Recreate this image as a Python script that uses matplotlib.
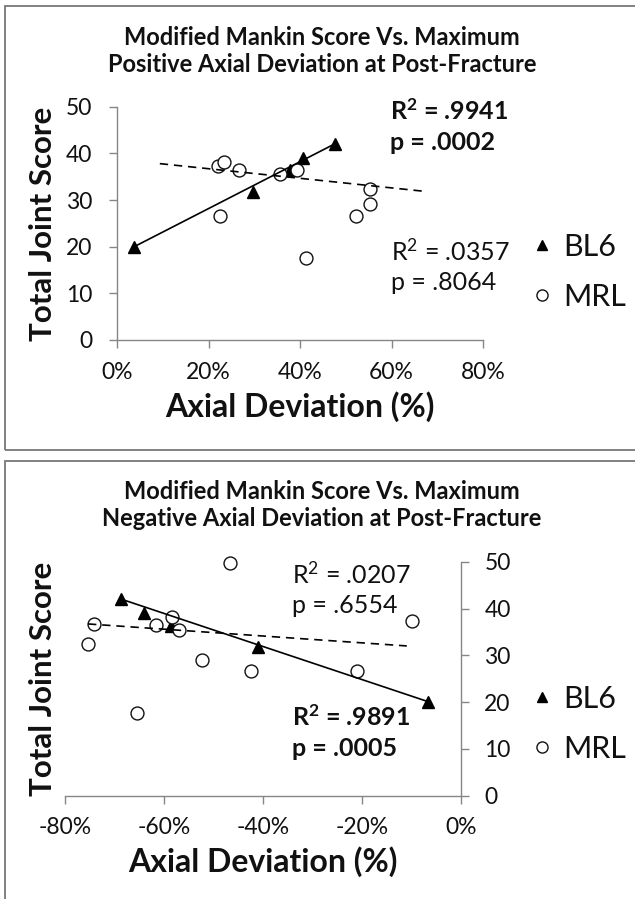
import matplotlib
matplotlib.use('Agg')
import matplotlib.pyplot as plt
from matplotlib.lines import Line2D
from matplotlib.patches import Rectangle
from matplotlib.ticker import FuncFormatter

plt.rcParams['font.family'] = ['Lato', 'DejaVu Sans']
plt.rcParams['mathtext.fontset'] = 'custom'
plt.rcParams['mathtext.rm'] = 'Lato'
plt.rcParams['mathtext.bf'] = 'Lato:bold'

# ---- data: positive axial deviation (%) vs total joint score ----
pos_bl6_x = [3.7, 29.7, 37.7, 40.6, 47.7]
pos_bl6_y = [20.0, 31.8, 36.4, 38.9, 42.1]
pos_mrl_x = [22.0, 23.3, 26.6, 22.4, 35.6, 39.3, 41.2, 52.2, 55.3, 55.3]
pos_mrl_y = [37.3, 38.2, 36.4, 26.6, 35.5, 36.5, 17.6, 26.6, 32.3, 29.1]
pos_bl6_trend_x = [3.7, 47.7]
pos_bl6_trend_y = [20.0, 42.1]
pos_mrl_trend_x = [9.3, 67.8]
pos_mrl_trend_y = [37.8, 31.8]

# ---- data: negative axial deviation (%) vs total joint score ----
neg_bl6_x = [-68.6, -63.9, -58.5, -41.0, -6.6]
neg_bl6_y = [42.0, 39.0, 36.3, 31.8, 20.1]
neg_mrl_x = [-46.7, -75.4, -74.2, -61.5, -58.3, -56.9, -52.2, -65.5, -42.3, -21.0, -9.8]
neg_mrl_y = [49.7, 32.4, 36.7, 36.5, 38.2, 35.4, 29.1, 17.7, 26.6, 26.6, 37.3]
neg_bl6_trend_x = [-68.6, -6.6]
neg_bl6_trend_y = [42.0, 20.1]
neg_mrl_trend_x = [-75.3, -10.9]
neg_mrl_trend_y = [36.7, 32.0]

titles = ['Modified Mankin Score Vs. Maximum\nPositive Axial Deviation at Post-Fracture',
          'Modified Mankin Score Vs. Maximum\nNegative Axial Deviation at Post-Fracture']
# (r squared, p value, bold?)
pos_stats = [('.9941', '.0002', True), ('.0357', '.8064', False)]
neg_stats = [('.0207', '.6554', False), ('.9891', '.0005', True)]

W, H = 635, 899
GRAY = '#868686'
TXT = '#111111'


def fx(px):
    return px / W


def fy(py):
    return 1 - py / H


fig = plt.figure(figsize=(W / 100, H / 100), dpi=100)

# panel borders (right / bottom edges run off the image)
fig.patches.append(Rectangle((fx(4.5), fy(450)), 1.0, (450 - 6) / H, transform=fig.transFigure,
                             fill=False, edgecolor='#777777', lw=1.3))
fig.patches.append(Rectangle((fx(4.5), -0.05), 1.0, fy(461) + 0.05, transform=fig.transFigure,
                             fill=False, edgecolor='#777777', lw=1.3))

ax1 = fig.add_axes([fx(117.3), fy(340), (483 - 117.3) / W, (340 - 106.7) / H])
ax2 = fig.add_axes([fx(64.8), fy(795.7), (460.7 - 64.8) / W, (795.7 - 561.7) / H])

pct = FuncFormatter(lambda v, p: '{:.0f}%'.format(v))


def draw(ax, bl6_x, bl6_y, mrl_x, mrl_y, bt_x, bt_y, mt_x, mt_y):
    ax.plot(bl6_x, bl6_y, ls='none', marker='^', ms=8.5, color='black', clip_on=False, zorder=3)
    ax.plot(mrl_x, mrl_y, ls='none', marker='o', ms=9.3, mfc='white', mec='#111111', mew=1.0,
            clip_on=False, zorder=4)
    ax.plot(bt_x, bt_y, color='black', lw=1.2, zorder=5)
    ax.plot(mt_x, mt_y, color='black', lw=1.2, ls=(0, (5, 3.5)), zorder=5)
    ax.set_ylim(0, 50)
    ax.set_yticks(range(0, 51, 10))
    ax.xaxis.set_major_formatter(pct)
    ax.tick_params(direction='out', length=6, width=1, color=GRAY, labelcolor=TXT, labelsize=16.5)
    ax.spines['top'].set_visible(False)
    for s in ax.spines.values():
        s.set_color(GRAY)
        s.set_linewidth(1)
    ax.set_facecolor('none')


def stat_text(px, py, r2, p, bold):
    if bold:
        line1 = r'$\mathbf{R^2}$' + ' = ' + r2
    else:
        line1 = r'$\mathrm{R^2}$' + ' = ' + r2
    kw = dict(ha='left', va='center', fontsize=18, color=TXT,
              fontweight='bold' if bold else 'normal')
    fig.text(fx(px), fy(py - 15.5), line1, **kw)
    fig.text(fx(px), fy(py + 15.5), 'p = ' + p, **kw)


draw(ax1, pos_bl6_x, pos_bl6_y, pos_mrl_x, pos_mrl_y,
     pos_bl6_trend_x, pos_bl6_trend_y, pos_mrl_trend_x, pos_mrl_trend_y)
ax1.set_xlim(0, 80)
ax1.set_xticks(range(0, 81, 20))
ax1.spines['right'].set_visible(False)
ax1.tick_params(axis='x', pad=10)
ax1.tick_params(axis='y', pad=12)

draw(ax2, neg_bl6_x, neg_bl6_y, neg_mrl_x, neg_mrl_y,
     neg_bl6_trend_x, neg_bl6_trend_y, neg_mrl_trend_x, neg_mrl_trend_y)
ax2.set_xlim(-80, 0)
ax2.set_xticks(range(-80, 1, 20))
ax2.spines['left'].set_visible(False)
ax2.yaxis.tick_right()
ax2.tick_params(axis='x', pad=9)
ax2.tick_params(axis='y', pad=11)

# titles
fig.text(fx(322), fy(51), titles[0], ha='center', va='center', fontsize=17,
         fontweight='bold', color=TXT, linespacing=1.2)
fig.text(fx(322), fy(505), titles[1], ha='center', va='center', fontsize=17,
         fontweight='bold', color=TXT, linespacing=1.2)

# axis labels
for ax in (ax1, ax2):
    ax.set_xlabel('Axial Deviation (%)', fontsize=23, fontweight='bold', color=TXT, labelpad=6)
fig.text(fx(43), fy(224), 'Total Joint Score', rotation=90, ha='center', va='center',
         fontsize=22.5, fontweight='bold', color=TXT)
fig.text(fx(43), fy(679), 'Total Joint Score', rotation=90, ha='center', va='center',
         fontsize=22.5, fontweight='bold', color=TXT)

# regression statistics
stat_text(390, 127, *pos_stats[0])
stat_text(391, 267, *pos_stats[1])
stat_text(292, 590, *neg_stats[0])
stat_text(292, 733, *neg_stats[1])

# legends
handles = [Line2D([], [], ls='none', marker='^', ms=7.5, color='black'),
           Line2D([], [], ls='none', marker='o', ms=8, mfc='white', mec='#111111', mew=1.0)]
for ax, yc in ((ax1, 272), (ax2, 724)):
    leg = ax.legend(handles, ['BL6', 'MRL'], loc='center left', bbox_to_anchor=(fx(533), fy(yc)),
                    bbox_transform=fig.transFigure, frameon=False, fontsize=22,
                    handlelength=0.6, handletextpad=0.4, labelspacing=0.72,
                    borderpad=0, borderaxespad=0)
    for t in leg.get_texts():
        t.set_color(TXT)

fig.savefig('out.png', dpi=100)
